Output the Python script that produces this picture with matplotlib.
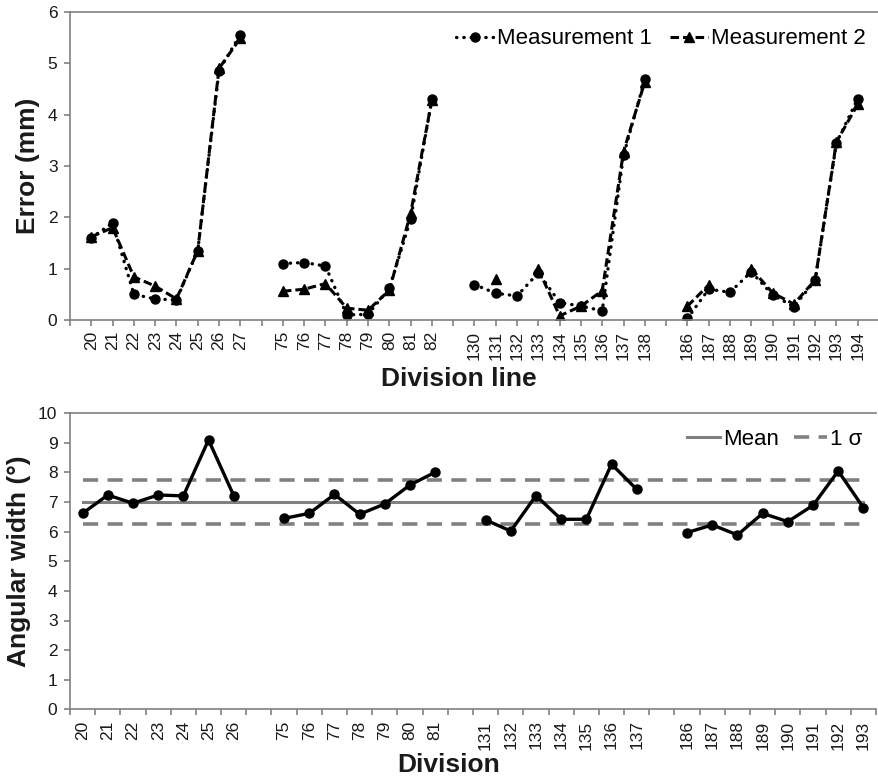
import numpy as np
import matplotlib
matplotlib.use("Agg")
import matplotlib.pyplot as plt

plt.rcParams['font.family'] = ['Liberation Sans', 'DejaVu Sans']

nan = np.nan

# Top chart: error per division line (blank categories split the groups)
top_labels = ['', '20', '21', '22', '23', '24', '25', '26', '27',
              '', '75', '76', '77', '78', '79', '80', '81', '82',
              '', '130', '131', '132', '133', '134', '135', '136', '137', '138',
              '', '186', '187', '188', '189', '190', '191', '192', '193', '194']
meas1 = [nan, 1.60, 1.89, 0.50, 0.41, 0.39, 1.35, 4.86, 5.56,
         nan, 1.10, 1.12, 1.05, 0.10, 0.11, 0.62, 1.96, 4.30,
         nan, 0.69, 0.52, 0.47, 0.92, 0.34, 0.27, 0.18, 3.21, 4.69,
         nan, 0.03, 0.60, 0.54, 0.94, 0.49, 0.26, 0.77, 3.45, 4.31]
meas2 = [nan, 1.62, 1.80, 0.84, 0.66, 0.41, 1.35, 4.90, 5.49,
         nan, 0.56, 0.60, 0.71, 0.23, 0.19, 0.58, 2.08, 4.29,
         nan, nan, 0.79, nan, 0.99, 0.08, 0.27, 0.57, 3.28, 4.64,
         nan, 0.27, 0.68, nan, 1.00, 0.53, 0.31, 0.78, 3.47, 4.20]

# Bottom chart: angular width per division
bot_labels = ['20', '21', '22', '23', '24', '25', '26', '',
              '75', '76', '77', '78', '79', '80', '81', '',
              '131', '132', '133', '134', '135', '136', '137', '',
              '186', '187', '188', '189', '190', '191', '192', '193']
width = [6.62, 7.24, 6.96, 7.24, 7.21, 9.10, 7.22, nan,
         6.45, 6.62, 7.26, 6.59, 6.94, 7.58, 8.01, nan,
         6.40, 6.02, 7.22, 6.42, 6.42, 8.28, 7.43, nan,
         5.97, 6.23, 5.89, 6.62, 6.34, 6.89, 8.05, 6.81]
mean_w = 7.0
sigma_w = 0.74

grey = '#808080'
txt = '#1a1a1a'

fig = plt.figure(figsize=(8.79, 7.80), dpi=100)
ax1 = fig.add_axes([70 / 879, 1 - 320 / 780, 809 / 879, 308 / 780])
ax2 = fig.add_axes([70 / 879, 1 - 709.3 / 780, 806 / 879, 296 / 780])


def style_axis(ax):
    for s in ['left', 'bottom', 'top']:
        ax.spines[s].set_color(grey)
        ax.spines[s].set_linewidth(1.2)
    ax.spines['right'].set_visible(False)
    ax.tick_params(axis='both', colors=grey, labelcolor=txt, labelsize=12.5,
                   length=4, width=1.2, direction='out')
    ax.tick_params(axis='x', labelrotation=90, pad=4)
    ax.tick_params(axis='y', pad=5)


# --- top chart ---
xt = np.arange(len(top_labels))
ax1.plot(xt, meas1, color='black', lw=2.4, linestyle=(0, (0.1, 2.1)),
         dash_capstyle='round', marker='o', ms=6.5, label='Measurement 1')
ax1.plot(xt, meas2, color='black', lw=2.2, linestyle=(0, (2.8, 1.3)),
         marker='^', ms=6.5, label='Measurement 2')
ax1.set_xlim(0, len(top_labels))
ax1.set_xticks(xt)
ax1.set_xticklabels(top_labels)
ax1.set_ylim(0, 6)
ax1.set_yticks(range(0, 7))
style_axis(ax1)
ax1.set_ylabel('Error (mm)', fontsize=19, fontweight='bold', color=txt, va='center')
ax1.yaxis.set_label_coords(-0.052, 0.5)
ax1.set_xlabel('Division line', fontsize=19, fontweight='bold', color=txt, va='center')
ax1.xaxis.set_label_coords(0.48, -0.19)
ax1.legend(loc='upper right', bbox_to_anchor=(1.0, 0.99), ncol=2, frameon=False,
           fontsize=16, handlelength=1.7, handletextpad=0.15, columnspacing=0.8,
           borderaxespad=0.2)

# --- bottom chart ---
xb = np.arange(len(bot_labels))
ax2.plot(xb, [mean_w] * len(xb), color=grey, lw=2.2, label='Mean')
ax2.plot(xb, [mean_w + sigma_w] * len(xb), color=grey, lw=2.6,
         linestyle=(0, (4.2, 2.6)), label='1 σ')
ax2.plot(xb, [mean_w - sigma_w] * len(xb), color=grey, lw=2.6,
         linestyle=(0, (4.2, 2.6)))
ax2.plot(xb, width, color='black', lw=2.4, marker='o', ms=6.5)
ax2.set_xlim(-0.5, len(bot_labels) - 0.5)
ax2.set_xticks(xb)
ax2.set_xticklabels(bot_labels)
ax2.set_xticks(np.arange(len(bot_labels) + 1) - 0.5, minor=True)
ax2.set_ylim(0, 10)
ax2.set_yticks(range(0, 11))
style_axis(ax2)
ax2.tick_params(axis='x', which='major', length=0, pad=8)
ax2.tick_params(axis='x', which='minor', length=4, width=1.2, color=grey)
ax2.set_ylabel('Angular width (°)', fontsize=19, fontweight='bold', color=txt, va='center')
ax2.yaxis.set_label_coords(-0.063, 0.5)
ax2.set_xlabel('Division', fontsize=19, fontweight='bold', color=txt, va='center')
ax2.xaxis.set_label_coords(0.47, -0.188)
ax2.legend(loc='upper right', bbox_to_anchor=(1.0, 0.993), ncol=2, frameon=False,
           fontsize=16, handlelength=1.5, handletextpad=0.15, columnspacing=0.65,
           borderaxespad=0.2)

fig.savefig('out.png', dpi=100)
